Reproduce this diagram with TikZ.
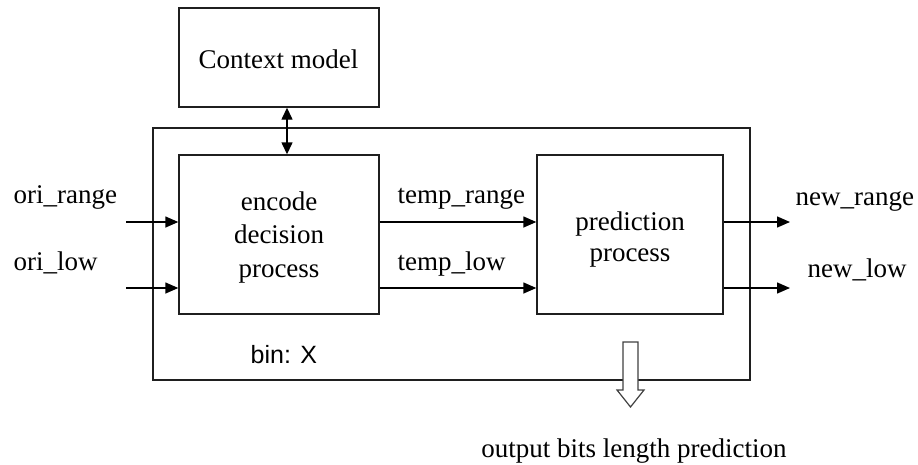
\documentclass[tikz,border=0pt]{standalone}
\usepackage{fontspec}
\setmainfont{Liberation Serif}
\newfontfamily\labelsans{Liberation Sans}
\usetikzlibrary{arrows.meta}
\begin{document}
\begin{tikzpicture}[x=1pt,y=-1pt,
  line width=1.4pt,
  blk/.style={draw=black!88, line width=1.4pt, rectangle, inner sep=0pt},
  txt/.style={font=\fontsize{27}{34}\selectfont, inner sep=0pt},
  sanstxt/.style={font=\labelsans\fontsize{25}{30}\selectfont, inner sep=0pt},
  arr/.style={-{Triangle[length=13pt,width=11pt]}, line width=1.4pt},
  darr/.style={{Triangle[length=12pt,width=11pt]}-{Triangle[length=12pt,width=11pt]}, line width=1.4pt},
  hollow/.style={draw=black!75, fill=white, line width=1.2pt, line join=miter}]
\useasboundingbox (0,0) rectangle (918,464);

% boxes
\node[blk, minimum width=597pt, minimum height=252pt] (outer) at (451.5,254) {};
\node[blk, minimum width=200pt, minimum height=99pt] (ctx) at (279,57.5) {};
\node[blk, minimum width=200pt, minimum height=159pt] (enc) at (279,234.5) {};
\node[blk, minimum width=186pt, minimum height=159pt] (pred) at (630,234.5) {};

% box texts (base anchor sits on the last line)
\node[txt, anchor=base] (ctxtext) at (278.5,68) {Context model};
\node[txt, anchor=base, align=center] (enctext) at (279,277) {encode\\[-0.5pt]decision\\[-0.5pt]process};
\node[txt, anchor=base, align=center] (predtext) at (630,261) {prediction\\[-3pt]process};

% connector ends
\coordinate (ctl) at (287,130);
\coordinate (inA) at (126,222);
\coordinate (inB) at (126,288);
\coordinate (outA) at (790,222);
\coordinate (outB) at (790,288);

% context model link
\draw[darr] (ctx.south -| ctl) -- (enc.north -| ctl);

% inputs
\draw[arr] (inA) -- (inA -| enc.west);
\draw[arr] (inB) -- (inB -| enc.west);

% between the two stages
\draw[arr] (enc.east |- inA) -- (pred.west |- inA);
\draw[arr] (enc.east |- inB) -- (pred.west |- inB);

% outputs
\draw[arr] (pred.east |- outA) -- (outA);
\draw[arr] (pred.east |- outB) -- (outB);

% signal labels
\node[txt, anchor=base west] (lori1) at (13,203) {ori\_range};
\node[txt, anchor=base west] (lori2) at (13,270) {ori\_low};
\node[txt, anchor=base west] (ltmp1) at (397,203) {temp\_range};
\node[txt, anchor=base west] (ltmp2) at (397,270) {temp\_low};
\node[txt, anchor=base west] (lnew1) at (795,205) {new\_range};
\node[txt, anchor=base west] (lnew2) at (807,277) {new\_low};
\node[sanstxt, anchor=base west] (lbin) at (250,363) {bin: X};

% hollow output arrow
\draw[hollow] (623,342) -- (638,342) -- (638,390) -- (644,390) -- (630.5,407)
  -- (617,390) -- (623,390) -- cycle;
\node[txt, anchor=base] (lout) at (634,457) {output bits length prediction};
\end{tikzpicture}
\end{document}
